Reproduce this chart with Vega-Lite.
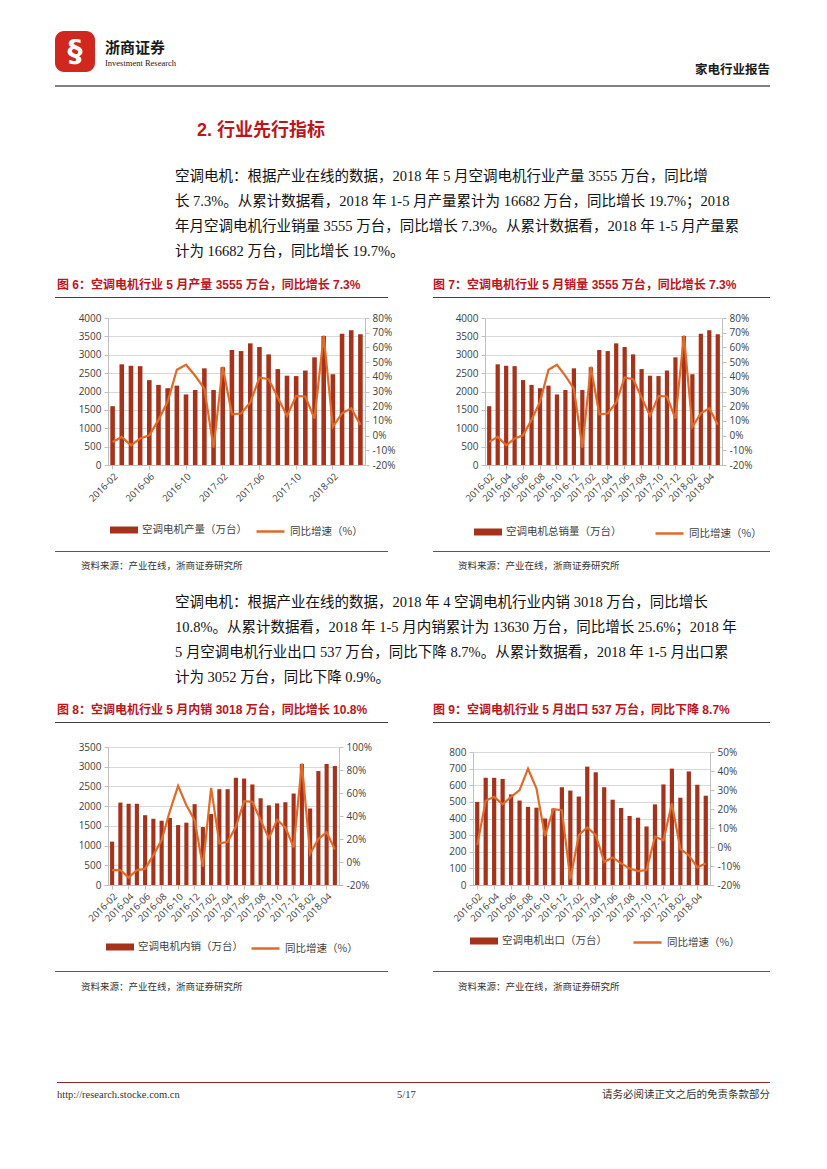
{
"$schema": "https://vega.github.io/schema/vega-lite/v6.json",
"padding": {"left": 55, "top": 31, "right": 0, "bottom": 0},
"background": "white",
"config": {
  "view": {"stroke": null},
  "axis": {"labelFont": "Open Sans", "labelFontSize": 10, "labelColor": "#404040", "domainColor": "#bfbfbf", "tickColor": "#bfbfbf", "tickSize": 4, "labelPadding": 3},
  "legend": {"labelFont": "Noto Sans CJK SC", "labelFontSize": 10.5, "labelColor": "#404040", "padding": 0, "labelOffset": 4},
  "title": {"anchor": "start", "frame": "group", "orient": "top"}
},
"datasets": {"d": [
 {"m": "2016-02", "prod": 1600, "prodYoy": -4.3, "dom": 1100, "domYoy": -7, "exp": 500, "expYoy": 1},
 {"m": "2016-03", "prod": 2740, "prodYoy": -0.9, "dom": 2090, "domYoy": -7, "exp": 645, "expYoy": 24.3},
 {"m": "2016-04", "prod": 2700, "prodYoy": -6.6, "dom": 2060, "domYoy": -13.6, "exp": 645, "expYoy": 26.4},
 {"m": "2016-05", "prod": 2690, "prodYoy": -2.0, "dom": 2060, "domYoy": -7, "exp": 638, "expYoy": 22.5},
 {"m": "2016-06", "prod": 2310, "prodYoy": 0.2, "dom": 1770, "domYoy": -6, "exp": 545, "expYoy": 26.4},
 {"m": "2016-07", "prod": 2180, "prodYoy": 10.7, "dom": 1680, "domYoy": 6, "exp": 508, "expYoy": 29.9},
 {"m": "2016-08", "prod": 2090, "prodYoy": 23.0, "dom": 1630, "domYoy": 19, "exp": 470, "expYoy": 41.2},
 {"m": "2016-09", "prod": 2160, "prodYoy": 44.8, "dom": 1700, "domYoy": 44.2, "exp": 465, "expYoy": 30.7},
 {"m": "2016-10", "prod": 1920, "prodYoy": 48.2, "dom": 1520, "domYoy": 66.2, "exp": 400, "expYoy": 5.7},
 {"m": "2016-11", "prod": 2040, "prodYoy": 40.7, "dom": 1580, "domYoy": 49.4, "exp": 460, "expYoy": 19.9},
 {"m": "2016-12", "prod": 2630, "prodYoy": 32.0, "dom": 2050, "domYoy": 36.4, "exp": 588, "expYoy": 19.4},
 {"m": "2017-01", "prod": 2040, "prodYoy": -8.2, "dom": 1470, "domYoy": -4, "exp": 568, "expYoy": -17},
 {"m": "2017-02", "prod": 2660, "prodYoy": 46.8, "dom": 1800, "domYoy": 64.4, "exp": 532, "expYoy": 6.3},
 {"m": "2017-03", "prod": 3130, "prodYoy": 14.5, "dom": 2430, "domYoy": 16.1, "exp": 712, "expYoy": 10.3},
 {"m": "2017-04", "prod": 3100, "prodYoy": 15.0, "dom": 2430, "domYoy": 17.6, "exp": 678, "expYoy": 6.3},
 {"m": "2017-05", "prod": 3310, "prodYoy": 22.5, "dom": 2720, "domYoy": 30.6, "exp": 588, "expYoy": -7.8},
 {"m": "2017-06", "prod": 3210, "prodYoy": 39.5, "dom": 2700, "domYoy": 52.9, "exp": 513, "expYoy": -5.5},
 {"m": "2017-07", "prod": 3010, "prodYoy": 38.4, "dom": 2550, "domYoy": 52.3, "exp": 463, "expYoy": -8.6},
 {"m": "2017-08", "prod": 2610, "prodYoy": 25.9, "dom": 2200, "domYoy": 36.4, "exp": 415, "expYoy": -11.3},
 {"m": "2017-09", "prod": 2430, "prodYoy": 13.4, "dom": 2020, "domYoy": 20.5, "exp": 405, "expYoy": -12.7},
 {"m": "2017-10", "prod": 2420, "prodYoy": 27.0, "dom": 2070, "domYoy": 36.6, "exp": 352, "expYoy": -12.1},
 {"m": "2017-11", "prod": 2570, "prodYoy": 26.6, "dom": 2100, "domYoy": 30, "exp": 485, "expYoy": 5.4},
 {"m": "2017-12", "prod": 2930, "prodYoy": 11.6, "dom": 2320, "domYoy": 12.7, "exp": 605, "expYoy": 3.6},
 {"m": "2018-01", "prod": 3510, "prodYoy": 68.0, "dom": 3070, "domYoy": 85.5, "exp": 700, "expYoy": 22.9},
 {"m": "2018-02", "prod": 2470, "prodYoy": 5.9, "dom": 1940, "domYoy": 7.2, "exp": 525, "expYoy": -1.1},
 {"m": "2018-03", "prod": 3570, "prodYoy": 15.2, "dom": 2890, "domYoy": 20, "exp": 683, "expYoy": -4.3},
 {"m": "2018-04", "prod": 3670, "prodYoy": 18.6, "dom": 3070, "domYoy": 25.8, "exp": 603, "expYoy": -10.7},
 {"m": "2018-05", "prod": 3555, "prodYoy": 7.3, "dom": 3018, "domYoy": 10.8, "exp": 537, "expYoy": -8.7}
]},
"spacing": 0, "bounds": "flush", "align": "none",
"resolve": {"scale": {"fill": "independent", "stroke": "independent"}, "legend": {"fill": "independent", "stroke": "independent"}},
"vconcat": [
 {"hconcat": [
   {"width": 40, "height": 41, "data": {"values": []}, "mark": "text", "view": {"fill": "#d0281f", "cornerRadius": 9, "stroke": null},
    "title": {"text": "§", "color": "#ffffff", "font": "DejaVu Sans", "fontSize": 30, "fontWeight": "bold", "anchor": "middle", "frame": "group", "offset": -36}},
   {"width": 100, "height": 54, "data": {"values": []}, "mark": "text",
    "title": {"text": "浙商证券", "subtitle": "Investment Research", "font": "Noto Sans CJK SC", "fontSize": 15, "fontWeight": "bold", "color": "#1a1a1a", "subtitleFont": "Liberation Serif", "subtitleFontSize": 8.5, "subtitleColor": "#1a1a1a", "subtitlePadding": 3, "offset": -36}}
  ], "spacing": 10, "bounds": "flush", "align": "none"},
 {"width": 1, "height": 54, "data": {"values": []}, "mark": "text"},
 {"width": 715, "height": 2, "data": {"values": []}, "mark": "text", "view": {"fill": "#808080", "stroke": null},
  "title": {"text": "家电行业报告", "anchor": "end", "font": "Noto Sans CJK SC", "fontSize": 12.5, "fontWeight": "bold", "color": "#1a1a1a", "offset": 9}},
 {"width": 715, "height": 63, "data": {"values": []}, "mark": "text",
  "title": {"text": "2. 行业先行指标", "font": "'Liberation Sans', 'Noto Sans CJK SC'", "fontSize": 18, "fontWeight": "bold", "color": "#c0141b", "dx": 142, "offset": -53}},
 {"width": 715, "height": 147, "data": {"values": []}, "mark": "text",
  "title": {"text": ["\u3000\u3000\u2004空调电机：根据产业在线的数据，2018 年 5 月空调电机行业产量 3555 万台，同比增", "长 7.3%。从累计数据看，2018 年 1-5 月产量累计为 16682 万台，同比增长 19.7%；2018", "年月空调电机行业销量 3555 万台，同比增长 7.3%。从累计数据看，2018 年 1-5 月产量累", "计为 16682 万台，同比增长 19.7%。"],
   "font": "'Liberation Serif', 'Noto Sans CJK SC'", "fontSize": 14.5, "fontWeight": "normal", "lineHeight": 25, "color": "#111111", "dx": 120, "offset": -109.5}},
 {"hconcat": [
   {"width": 333, "height": 1, "data": {"values": []}, "mark": "text", "view": {"fill": "#404040", "stroke": null},
    "title": {"text": "图 6：空调电机行业 5 月产量 3555 万台，同比增长 7.3%", "font": "'Liberation Sans', 'Noto Sans CJK SC'", "fontSize": 12, "fontWeight": "bold", "color": "#c0141b", "dx": 2, "offset": 5}},
   {"width": 337, "height": 1, "data": {"values": []}, "mark": "text", "view": {"fill": "#404040", "stroke": null},
    "title": {"text": "图 7：空调电机行业 5 月销量 3555 万台，同比增长 7.3%", "font": "'Liberation Sans', 'Noto Sans CJK SC'", "fontSize": 12, "fontWeight": "bold", "color": "#c0141b", "dx": 0, "offset": 5}}
  ], "spacing": 45, "bounds": "flush", "align": "none"},
 {"width": 1, "height": 21, "data": {"values": []}, "mark": "text"},
 {"hconcat": [
   {"width": 53, "height": 1, "data": {"values": []}, "mark": "text"},
   {"width": 257, "height": 147, "data": {"name": "d"},
    "encoding": {"x": {"field": "m", "type": "ordinal", "scale": {"paddingInner": 0.5, "paddingOuter": 0.25},
      "axis": {"title": null, "values": ["2016-02", "2016-06", "2016-10", "2017-02", "2017-06", "2017-10", "2018-02"], "labelAngle": -45, "labelOverlap": false, "labelFontSize": 9.5, "labelPadding": 2}}},
    "layer": [
     {"mark": {"type": "bar"},
      "encoding": {
       "y": {"field": "prod", "type": "quantitative", "scale": {"domain": [0, 4000], "nice": false}, "axis": {"title": null, "orient": "left", "format": "d", "values": [0, 500, 1000, 1500, 2000, 2500, 3000, 3500, 4000], "grid": true, "gridColor": "#d9d9d9"}},
       "fill": {"datum": "空调电机产量（万台）", "type": "nominal", "scale": {"range": ["#a5331b"]}, "legend": {"title": null, "orient": "none", "legendX": 2, "legendY": 198, "symbolType": "M-1,-0.25H1V0.25H-1Z", "symbolSize": 784, "symbolStrokeWidth": 0}}}},
     {"mark": {"type": "line", "strokeWidth": 2.2},
      "encoding": {
       "y": {"field": "prodYoy", "type": "quantitative", "scale": {"domain": [-20, 80], "nice": false}, "axis": {"title": null, "orient": "right", "values": [-20, -10, 0, 10, 20, 30, 40, 50, 60, 70, 80], "labelExpr": "datum.value + '%'", "grid": false}},
       "stroke": {"datum": "同比增速（%）", "type": "nominal", "scale": {"range": ["#e26a28"]}, "legend": {"title": null, "orient": "none", "legendX": 147, "legendY": 198, "symbolType": "M-1,0H1", "symbolSize": 784, "symbolStrokeWidth": 2.5}}}}
    ],
    "resolve": {"scale": {"y": "independent"}}},
   {"width": 120, "height": 1, "data": {"values": []}, "mark": "text"},
   {"width": 237, "height": 147, "data": {"name": "d"},
    "encoding": {"x": {"field": "m", "type": "ordinal", "scale": {"paddingInner": 0.5, "paddingOuter": 0.25},
      "axis": {"title": null, "values": ["2016-02", "2016-04", "2016-06", "2016-08", "2016-10", "2016-12", "2017-02", "2017-04", "2017-06", "2017-08", "2017-10", "2017-12", "2018-02", "2018-04"], "labelAngle": -45, "labelOverlap": false, "labelFontSize": 9.5, "labelPadding": 2}}},
    "layer": [
     {"mark": {"type": "bar"},
      "encoding": {
       "y": {"field": "prod", "type": "quantitative", "scale": {"domain": [0, 4000], "nice": false}, "axis": {"title": null, "orient": "left", "format": "d", "values": [0, 500, 1000, 1500, 2000, 2500, 3000, 3500, 4000], "grid": true, "gridColor": "#d9d9d9"}},
       "fill": {"datum": "空调电机总销量（万台）", "type": "nominal", "scale": {"range": ["#a5331b"]}, "legend": {"title": null, "orient": "none", "legendX": -11, "legendY": 200, "symbolType": "M-1,-0.25H1V0.25H-1Z", "symbolSize": 784, "symbolStrokeWidth": 0}}}},
     {"mark": {"type": "line", "strokeWidth": 2.2},
      "encoding": {
       "y": {"field": "prodYoy", "type": "quantitative", "scale": {"domain": [-20, 80], "nice": false}, "axis": {"title": null, "orient": "right", "values": [-20, -10, 0, 10, 20, 30, 40, 50, 60, 70, 80], "labelExpr": "datum.value + '%'", "grid": false}},
       "stroke": {"datum": "同比增速（%）", "type": "nominal", "scale": {"range": ["#e26a28"]}, "legend": {"title": null, "orient": "none", "legendX": 169, "legendY": 200, "symbolType": "M-1,0H1", "symbolSize": 784, "symbolStrokeWidth": 2.5}}}}
    ],
    "resolve": {"scale": {"y": "independent"}}}
  ], "spacing": 0, "bounds": "flush", "align": "none",
  "resolve": {"scale": {"fill": "independent", "stroke": "independent"}, "legend": {"fill": "independent", "stroke": "independent"}}},
 {"width": 1, "height": 233, "data": {"values": []}, "mark": "text"},
 {"hconcat": [
   {"width": 333, "height": 1, "data": {"values": []}, "mark": "text", "view": {"fill": "#595959", "stroke": null},
    "title": {"text": "资料来源：产业在线，浙商证券研究所", "orient": "bottom", "font": "Noto Sans CJK SC", "fontSize": 9.5, "fontWeight": "normal", "color": "#333333", "dx": 26, "offset": 9}},
   {"width": 337, "height": 1, "data": {"values": []}, "mark": "text", "view": {"fill": "#595959", "stroke": null},
    "title": {"text": "资料来源：产业在线，浙商证券研究所", "orient": "bottom", "font": "Noto Sans CJK SC", "fontSize": 9.5, "fontWeight": "normal", "color": "#333333", "dx": 25, "offset": 9}}
  ], "spacing": 45, "bounds": "flush", "align": "none"},
 {"width": 715, "height": 171, "data": {"values": []}, "mark": "text",
  "title": {"text": ["\u3000\u3000\u2004空调电机：根据产业在线的数据，2018 年 4 空调电机行业内销 3018 万台，同比增长", "10.8%。从累计数据看，2018 年 1-5 月内销累计为 13630 万台，同比增长 25.6%；2018 年", "5 月空调电机行业出口 537 万台，同比下降 8.7%。从累计数据看，2018 年 1-5 月出口累", "计为 3052 万台，同比下降 0.9%。"],
   "font": "'Liberation Serif', 'Noto Sans CJK SC'", "fontSize": 14.5, "fontWeight": "normal", "lineHeight": 25, "color": "#111111", "dx": 120, "offset": -134}},
 {"hconcat": [
   {"width": 333, "height": 1, "data": {"values": []}, "mark": "text", "view": {"fill": "#404040", "stroke": null},
    "title": {"text": "图 8：空调电机行业 5 月内销 3018 万台，同比增长 10.8%", "font": "'Liberation Sans', 'Noto Sans CJK SC'", "fontSize": 12, "fontWeight": "bold", "color": "#c0141b", "dx": 2, "offset": 5}},
   {"width": 337, "height": 1, "data": {"values": []}, "mark": "text", "view": {"fill": "#404040", "stroke": null},
    "title": {"text": "图 9：空调电机行业 5 月出口 537 万台，同比下降 8.7%", "font": "'Liberation Sans', 'Noto Sans CJK SC'", "fontSize": 12, "fontWeight": "bold", "color": "#c0141b", "dx": 0, "offset": 5}}
  ], "spacing": 45, "bounds": "flush", "align": "none"},
 {"width": 1, "height": 25, "data": {"values": []}, "mark": "text"},
 {"hconcat": [
   {"width": 53, "height": 1, "data": {"values": []}, "mark": "text"},
   {"width": 231, "height": 138, "data": {"name": "d"},
    "encoding": {"x": {"field": "m", "type": "ordinal", "scale": {"paddingInner": 0.5, "paddingOuter": 0.25},
      "axis": {"title": null, "values": ["2016-02", "2016-04", "2016-06", "2016-08", "2016-10", "2016-12", "2017-02", "2017-04", "2017-06", "2017-08", "2017-10", "2017-12", "2018-02", "2018-04"], "labelAngle": -45, "labelOverlap": false, "labelFontSize": 9.5, "labelPadding": 2}}},
    "layer": [
     {"mark": {"type": "bar"},
      "encoding": {
       "y": {"field": "dom", "type": "quantitative", "scale": {"domain": [0, 3500], "nice": false}, "axis": {"title": null, "orient": "left", "format": "d", "values": [0, 500, 1000, 1500, 2000, 2500, 3000, 3500], "grid": true, "gridColor": "#d9d9d9"}},
       "fill": {"datum": "空调电机内销（万台）", "type": "nominal", "scale": {"range": ["#a5331b"]}, "legend": {"title": null, "orient": "none", "legendX": -2, "legendY": 186, "symbolType": "M-1,-0.25H1V0.25H-1Z", "symbolSize": 784, "symbolStrokeWidth": 0}}}},
     {"mark": {"type": "line", "strokeWidth": 2.2},
      "encoding": {
       "y": {"field": "domYoy", "type": "quantitative", "scale": {"domain": [-20, 100], "nice": false}, "axis": {"title": null, "orient": "right", "values": [-20, 0, 20, 40, 60, 80, 100], "labelExpr": "datum.value + '%'", "grid": false}},
       "stroke": {"datum": "同比增速（%）", "type": "nominal", "scale": {"range": ["#e26a28"]}, "legend": {"title": null, "orient": "none", "legendX": 142, "legendY": 186, "symbolType": "M-1,0H1", "symbolSize": 784, "symbolStrokeWidth": 2.5}}}}
    ],
    "resolve": {"scale": {"y": "independent"}}},
   {"width": 134, "height": 1, "data": {"values": []}, "mark": "text"},
   {"vconcat": [
     {"width": 1, "height": 5, "data": {"values": []}, "mark": "text"},
     {"width": 237, "height": 133, "data": {"name": "d"},
      "encoding": {"x": {"field": "m", "type": "ordinal", "scale": {"paddingInner": 0.5, "paddingOuter": 0.25},
        "axis": {"title": null, "values": ["2016-02", "2016-04", "2016-06", "2016-08", "2016-10", "2016-12", "2017-02", "2017-04", "2017-06", "2017-08", "2017-10", "2017-12", "2018-02", "2018-04"], "labelAngle": -45, "labelOverlap": false, "labelFontSize": 9.5, "labelPadding": 2}}},
      "layer": [
       {"mark": {"type": "bar"},
        "encoding": {
         "y": {"field": "exp", "type": "quantitative", "scale": {"domain": [0, 800], "nice": false}, "axis": {"title": null, "orient": "left", "format": "d", "values": [0, 100, 200, 300, 400, 500, 600, 700, 800], "grid": true, "gridColor": "#d9d9d9"}},
         "fill": {"datum": "空调电机出口（万台）", "type": "nominal", "scale": {"range": ["#a5331b"]}, "legend": {"title": null, "orient": "none", "legendX": -3, "legendY": 175, "symbolType": "M-1,-0.25H1V0.25H-1Z", "symbolSize": 784, "symbolStrokeWidth": 0}}}},
       {"mark": {"type": "line", "strokeWidth": 2.2},
        "encoding": {
         "y": {"field": "expYoy", "type": "quantitative", "scale": {"domain": [-20, 50], "nice": false}, "axis": {"title": null, "orient": "right", "values": [-20, -10, 0, 10, 20, 30, 40, 50], "labelExpr": "datum.value + '%'", "grid": false}},
         "stroke": {"datum": "同比增速（%）", "type": "nominal", "scale": {"range": ["#e26a28"]}, "legend": {"title": null, "orient": "none", "legendX": 159, "legendY": 175, "symbolType": "M-1,0H1", "symbolSize": 784, "symbolStrokeWidth": 2.5}}}}
      ],
      "resolve": {"scale": {"y": "independent"}}}
    ], "spacing": 0, "bounds": "flush", "align": "none",
    "resolve": {"scale": {"fill": "independent", "stroke": "independent"}, "legend": {"fill": "independent", "stroke": "independent"}}}
  ], "spacing": 0, "bounds": "flush", "align": "none",
  "resolve": {"scale": {"fill": "independent", "stroke": "independent"}, "legend": {"fill": "independent", "stroke": "independent"}}},
 {"width": 1, "height": 224, "data": {"values": []}, "mark": "text"},
 {"hconcat": [
   {"width": 333, "height": 1, "data": {"values": []}, "mark": "text", "view": {"fill": "#595959", "stroke": null},
    "title": {"text": "资料来源：产业在线，浙商证券研究所", "orient": "bottom", "font": "Noto Sans CJK SC", "fontSize": 9.5, "fontWeight": "normal", "color": "#333333", "dx": 26, "offset": 10}},
   {"width": 337, "height": 1, "data": {"values": []}, "mark": "text", "view": {"fill": "#595959", "stroke": null},
    "title": {"text": "资料来源：产业在线，浙商证券研究所", "orient": "bottom", "font": "Noto Sans CJK SC", "fontSize": 9.5, "fontWeight": "normal", "color": "#333333", "dx": 25, "offset": 10}}
  ], "spacing": 45, "bounds": "flush", "align": "none"},
 {"width": 1, "height": 111, "data": {"values": []}, "mark": "text"},
 {"hconcat": [
   {"width": 2, "height": 1, "data": {"values": []}, "mark": "text"},
   {"width": 340, "height": 1, "data": {"values": []}, "mark": "text", "view": {"fill": "#8c2323", "stroke": null},
    "title": {"text": "http://research.stocke.com.cn", "orient": "bottom", "font": "Liberation Serif", "fontSize": 10.5, "fontWeight": "normal", "color": "#333333", "offset": 7}},
   {"width": 103, "height": 1, "data": {"values": []}, "mark": "text", "view": {"fill": "#8c2323", "stroke": null},
    "title": {"text": "5/17", "orient": "bottom", "font": "Liberation Serif", "fontSize": 10.5, "fontWeight": "normal", "color": "#333333", "offset": 7}},
   {"width": 270, "height": 1, "data": {"values": []}, "mark": "text", "view": {"fill": "#8c2323", "stroke": null},
    "title": {"text": "请务必阅读正文之后的免责条款部分", "orient": "bottom", "anchor": "end", "font": "Noto Sans CJK SC", "fontSize": 10.5, "fontWeight": "normal", "color": "#333333", "offset": 7}}
  ], "spacing": 0, "bounds": "flush", "align": "none"}
]
}
